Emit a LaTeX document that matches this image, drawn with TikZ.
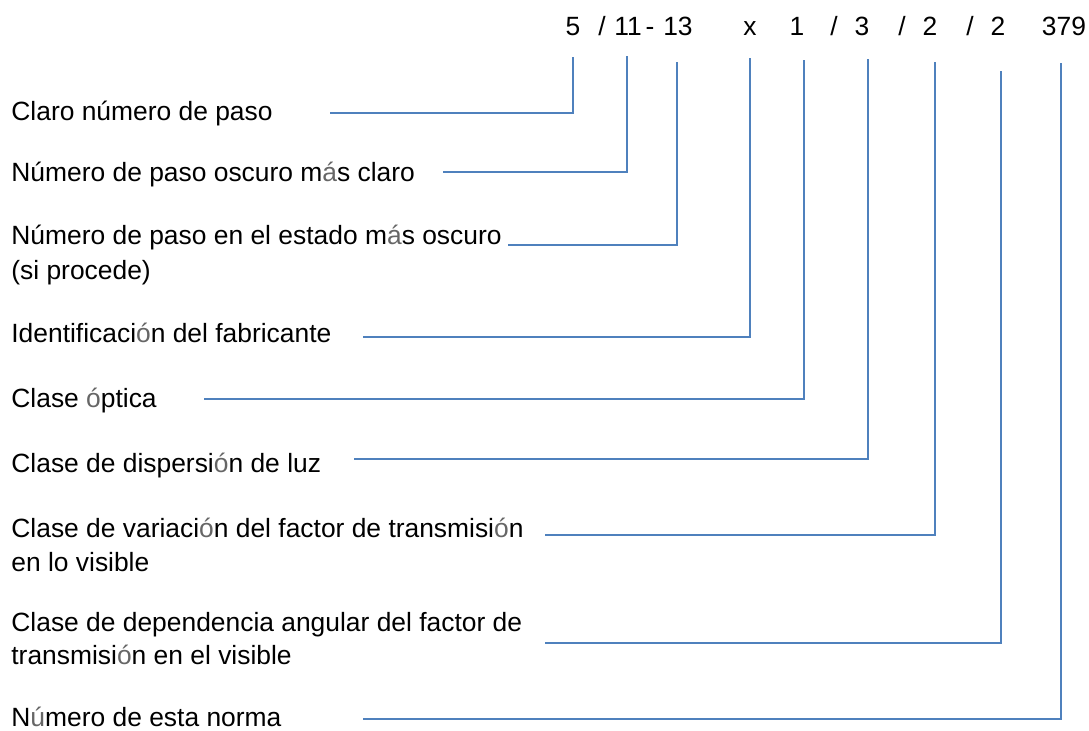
\documentclass[tikz,border=0pt]{standalone}
\usepackage{fontspec}
\setmainfont{Liberation Sans}
\definecolor{linkblue}{HTML}{4F81BD}
\newcommand{\lite}[1]{{\color{black!60}#1}}
\begin{document}
\begin{tikzpicture}[x=0.5pt,y=-0.5pt,
  lbl/.style={anchor=base west,inner sep=0pt,font=\fontsize{13.2}{16}\selectfont},
  val/.style={anchor=base,inner sep=0pt,font=\fontsize{13.2}{16}\selectfont},
  conn/.style={draw=linkblue,line width=1pt}]
\useasboundingbox (0,0) rectangle (1089,731);
% code values
\node[val] (v1) at (573,36) {5};
\node[val] (s1) at (602,36) {/};
\node[val] (v2) at (628,36) {11};
\node[val] (s2) at (650,36) {-};
\node[val] (v3) at (678,36) {13};
\node[val] (v4) at (750,36) {x};
\node[val] (v5) at (797,36) {1};
\node[val] (s3) at (834,36) {/};
\node[val] (v6) at (862,36) {3};
\node[val] (s4) at (902,36) {/};
\node[val] (v7) at (930,36) {2};
\node[val] (s5) at (970,36) {/};
\node[val] (v8) at (998,36) {2};
\node[val] (v9) at (1064,36) {379};
% labels
\node[lbl] (l1) at (11,121) {Claro número de paso};
\node[lbl] (l2) at (11,182) {Número de paso oscuro m\lite{á}s claro};
\node[lbl] (l3) at (11,245) {Número de paso en el estado m\lite{á}s oscuro};
\node[lbl] (l3b) at (11,280) {(si procede)};
\node[lbl] (l4) at (11,343) {Identificaci\lite{ó}n del fabricante};
\node[lbl] (l5) at (11,408) {Clase \lite{ó}ptica};
\node[lbl] (l6) at (11,473) {Clase de dispersi\lite{ó}n de luz};
\node[lbl] (l7) at (11,538) {Clase de variaci\lite{ó}n del factor de transmisi\lite{ó}n};
\node[lbl] (l7b) at (11,572) {en lo visible};
\node[lbl] (l8) at (11,632) {Clase de dependencia angular del factor de};
\node[lbl] (l8b) at (11,665) {transmisi\lite{ó}n en el visible};
\node[lbl] (l9) at (11,727) {N\lite{ú}mero de esta norma};
% connector start points
\coordinate (h1) at (330,113);
\coordinate (h2) at (443,172);
\coordinate (h3) at (508,245);
\coordinate (h4) at (363,337);
\coordinate (h5) at (204,399);
\coordinate (h6) at (354,459);
\coordinate (h7) at (545,535);
\coordinate (h8) at (545,643);
\coordinate (h9) at (363,719);
% connectors
\draw[conn,shorten >=10pt] (h1) -| (v1.south);
\draw[conn,shorten >=10pt] (h2) -| ([xshift=-0.5pt]v2.south);
\draw[conn,shorten >=12.5pt] (h3) -| ([xshift=-0.5pt]v3.south);
\draw[conn,shorten >=11pt] (h4) -| (v4.south);
\draw[conn,shorten >=12pt] (h5) -| ([xshift=3.5pt]v5.south);
\draw[conn,shorten >=11pt] (h6) -| ([xshift=3pt]v6.south);
\draw[conn,shorten >=13pt] (h7) -| ([xshift=2.5pt]v7.south);
\draw[conn,shorten >=17.5pt] (h8) -| ([xshift=1.5pt]v8.south);
\draw[conn,shorten >=13pt] (h9) -| ([xshift=-1.5pt]v9.south);
\end{tikzpicture}
\end{document}
